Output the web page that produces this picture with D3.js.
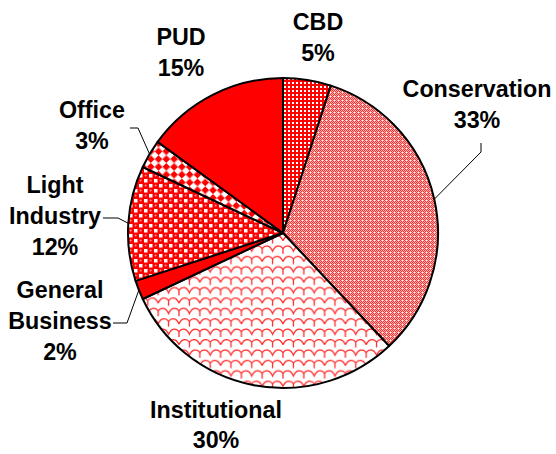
<!DOCTYPE html>
<html><head><meta charset="utf-8">
<script src="https://cdn.jsdelivr.net/npm/d3@7"></script>
<style>html,body{margin:0;padding:0;background:#fff;}svg{display:block;}</style>
</head><body>
<svg id="chart" width="556" height="454"></svg>
<script>
// ---- data ----
const categories = ["CBD", "Conservation", "Institutional", "General Business", "Light Industry", "Office", "PUD"];
const values = [5, 33, 30, 2, 12, 3, 15];
const labelLines = [["CBD"], ["Conservation"], ["Institutional"], ["General", "Business"], ["Light", "Industry"], ["Office"], ["PUD"]];

// ---- layout (styles / positions) ----
const fills = ["url(#pCBD)", "url(#pCons)", "url(#pInst)", "#ff0000", "url(#pLight)", "url(#pOffice)", "#ff0000"];
const labelPos = [[318, 30], [477, 97], [216, 418], [60, 298], [55, 193], [92, 118], [181, 45]];
const leaderStart = [null, [[481, 143], [481, 152]], null, [[113, 323], [127, 323]], [[103, 218], [118, 218]], [[130, 128], [138, 128]], null];

const cx = 283, cy = 233, R = 155, lineH = 31;
const svg = d3.select("#chart");
const defs = svg.append("defs");

// CBD: red with white square grid
let p = defs.append("pattern").attr("id", "pCBD").attr("patternUnits", "userSpaceOnUse").attr("width", 4).attr("height", 4);
p.append("rect").attr("width", 4).attr("height", 4).attr("fill", "#ff0000");
p.append("rect").attr("x", 1).attr("y", 1).attr("width", 2).attr("height", 2).attr("fill", "#ffffff");
// Conservation: fine pink checker
p = defs.append("pattern").attr("id", "pCons").attr("patternUnits", "userSpaceOnUse").attr("width", 4).attr("height", 4);
p.append("rect").attr("width", 4).attr("height", 4).attr("fill", "#ffb4b4");
[[0,0],[2,0],[1,1],[0,2],[2,2],[1,3],[3,1]].forEach(([x,y]) => p.append("rect").attr("x", x).attr("y", y).attr("width", 1).attr("height", 1).attr("fill", "#ff3030"));
p.append("rect").attr("x", 3).attr("y", 3).attr("width", 1).attr("height", 1).attr("fill", "#ffffff");
// Institutional: shingle scallops
p = defs.append("pattern").attr("id", "pInst").attr("patternUnits", "userSpaceOnUse").attr("width", 16).attr("height", 16).attr("patternTransform", "scale(1.3)");
p.append("rect").attr("width", 16).attr("height", 16).attr("fill", "#ffffff");
p.append("path").attr("d",
  "M0,6 C2,1 6,1 8,4 C10,1 14,1 16,6 M8,4 L8,8 " +
  "M-8,14 C-6,9 -2,9 0,12 C2,9 6,9 8,14 C10,9 14,9 16,12 C18,9 22,9 24,14 M0,12 L0,16 M16,12 L16,16 M0,-4 L0,0 M16,-4 L16,0")
  .attr("fill", "none").attr("stroke", "#ff2020").attr("stroke-width", 0.95);
// Light Industry: spheres / checker
p = defs.append("pattern").attr("id", "pLight").attr("patternUnits", "userSpaceOnUse").attr("width", 10).attr("height", 10);
p.append("rect").attr("width", 10).attr("height", 10).attr("fill", "#ff0000");
p.append("rect").attr("x", 6).attr("y", 1).attr("width", 3.5).attr("height", 3.5).attr("fill", "#ffffff");
p.append("rect").attr("x", 1).attr("y", 6).attr("width", 3.5).attr("height", 3.5).attr("fill", "#ffffff");
p.append("circle").attr("cx", 2.6).attr("cy", 2.4).attr("r", 1).attr("fill", "#ff9090");
p.append("circle").attr("cx", 7.6).attr("cy", 7.4).attr("r", 1).attr("fill", "#ff9090");
// Office: diamond checker
p = defs.append("pattern").attr("id", "pOffice").attr("patternUnits", "userSpaceOnUse").attr("width", 11).attr("height", 11).attr("patternTransform", "rotate(45)");
p.append("rect").attr("width", 11).attr("height", 11).attr("fill", "#ffffff");
p.append("rect").attr("width", 5.5).attr("height", 5.5).attr("fill", "#ff0000");
p.append("rect").attr("x", 5.5).attr("y", 5.5).attr("width", 5.5).attr("height", 5.5).attr("fill", "#ff0000");

const pie = d3.pie().sort(null).value(d => d)(values);
const arc = d3.arc().innerRadius(0).outerRadius(R);
const g = svg.append("g").attr("transform", `translate(${cx},${cy})`);

g.selectAll("path.slice").data(pie).join("path")
  .attr("class", "slice")
  .attr("d", arc)
  .attr("fill", (d, i) => fills[i])
  .attr("stroke", "#000").attr("stroke-width", 2).attr("stroke-linejoin", "round");

// leader lines
pie.forEach((d, i) => {
  if (!leaderStart[i]) return;
  const a = (d.startAngle + d.endAngle) / 2;
  const end = [cx + R * Math.sin(a), cy - R * Math.cos(a)];
  const pts = leaderStart[i].concat([end]);
  svg.append("path").attr("d", d3.line()(pts)).attr("fill", "none").attr("stroke", "#000").attr("stroke-width", 1);
});

// labels
pie.forEach((d, i) => {
  const lines = labelLines[i].concat([values[i] + "%"]);
  const t = svg.append("text")
    .attr("text-anchor", "middle")
    .attr("font-family", "'Liberation Sans', Arial, sans-serif")
    .attr("font-weight", "bold").attr("font-size", 23.3).attr("fill", "#000");
  lines.forEach((s, k) => t.append("tspan").attr("x", labelPos[i][0]).attr("y", labelPos[i][1] + k * (i === 2 ? 30 : lineH)).text(s));
});
</script>
</body></html>
